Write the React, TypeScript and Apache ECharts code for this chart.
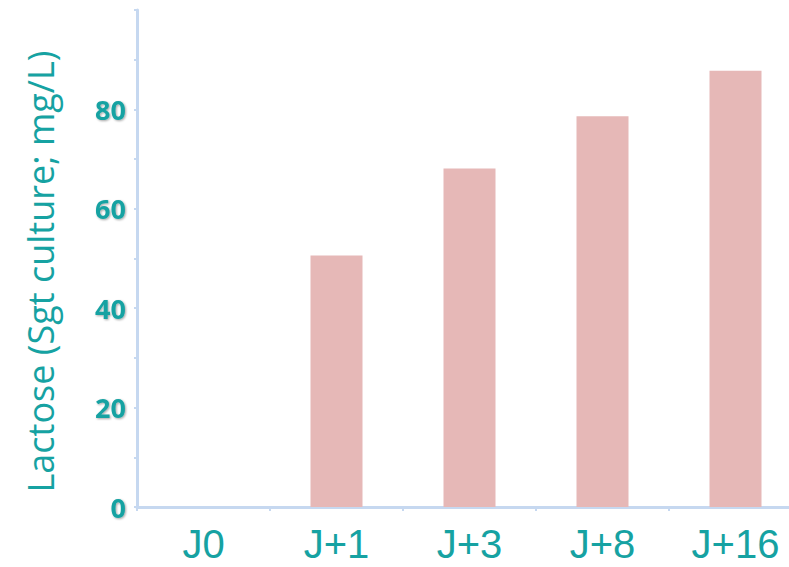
import React, { useEffect, useRef } from "react";
import * as echarts from "echarts";

const categories = ["J0", "J+1", "J+3", "J+8", "J+16"];
const lactose = [0, 50.6, 68.1, 78.6, 87.8];
const yTickLabels = ["0", "20", "40", "60", "80"];
const yAxisTitle = "Lactose (Sgt culture; mg/L)";

const TEAL = "#16A2A2";
const AXIS = "#C6D8F0";

export default function App() {
  const ref = useRef<HTMLDivElement>(null);
  useEffect(() => {
    if (!ref.current) return;
    const chart = echarts.init(ref.current, undefined, { renderer: "svg" });
    chart.setOption({
      animation: false,
      grid: { left: 137, top: 10, height: 497, width: 665, containLabel: false },
      xAxis: {
        type: "category",
        data: categories,
        axisLine: { lineStyle: { color: AXIS, width: 3 } },
        axisTick: { show: true, length: 4, lineStyle: { color: AXIS, width: 2 } },
        axisLabel: {
          color: TEAL,
          fontSize: 40,
          lineHeight: 40,
          fontFamily: "Liberation Sans",
          margin: 17,
        },
      },
      yAxis: {
        type: "value",
        min: 0,
        max: 100,
        interval: 10,
        splitLine: { show: false },
        axisLine: { show: true, lineStyle: { color: AXIS, width: 3 } },
        axisTick: { show: true, length: 3, lineStyle: { color: AXIS, width: 2 } },
        axisLabel: {
          color: TEAL,
          fontSize: 27,
          fontWeight: "bold",
          fontFamily: "Open Sans",
          margin: 11,
          textShadowColor: "rgba(0,0,0,0.35)",
          textShadowBlur: 2,
          textShadowOffsetX: 1,
          textShadowOffsetY: 1,
          formatter: (v: number) => {
            const s = String(v);
            return yTickLabels.includes(s) ? s : "";
          },
        },
        name: yAxisTitle,
        nameLocation: "middle",
        nameGap: 79,
        nameTextStyle: {
          color: TEAL,
          fontSize: 36,
          fontFamily: "Open Sans",
          padding: [0, 26, 0, 0],
        },
      },
      series: [
        {
          type: "bar",
          data: lactose,
          barWidth: 52,
          itemStyle: { color: "#E6B8B7" },
        },
      ],
    });
    return () => chart.dispose();
  }, []);
  return (
    <div style={{ width: 789, height: 567, position: "absolute", left: 0, top: 0, overflow: "hidden" }}>
      <div ref={ref} style={{ width: 830, height: 567, position: "absolute", left: 0, top: 0 }} />
    </div>
  );
}
